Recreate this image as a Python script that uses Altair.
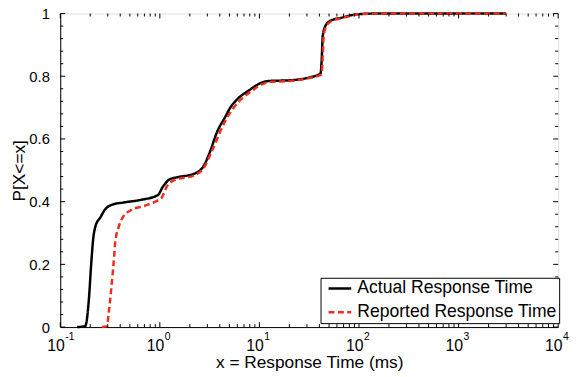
import altair as alt
import pandas as pd

F = "Liberation Sans"
RED = "#ef2d1b"

series_names = ["Actual Response Time", "Reported Response Time"]

actual_x = [0.148, 0.178, 0.194, 0.204, 0.214, 0.226, 0.253, 0.283, 0.33, 0.447, 0.653,
            0.955, 1.07, 1.25, 1.51, 2.21, 2.77, 3.22, 3.75, 4.53, 5.08, 5.92, 8.02,
            10.07, 12.6, 19.9, 31.5, 41.1, 42.1, 43.3, 46.1, 51.6, 67.4, 84.7, 98.5,
            150, 3000]
actual_y = [0.0, 0.003, 0.09, 0.196, 0.28, 0.322, 0.35, 0.376, 0.39, 0.398, 0.406,
            0.421, 0.447, 0.471, 0.478, 0.489, 0.515, 0.563, 0.622, 0.67, 0.699, 0.725, 0.757,
            0.777, 0.785, 0.787, 0.796, 0.809, 0.846, 0.93, 0.961, 0.977, 0.987, 0.995, 0.998,
            1.0, 1.0]

reported_x = [0.262, 0.294, 0.305, 0.33, 0.348, 0.356, 0.384, 0.43, 0.501, 0.706,
              0.955, 1.03, 1.2, 1.4, 2.21, 2.77, 3.35, 4.53, 6.15, 8.3, 10.4, 13.0,
              20.0, 31.5, 42.0, 43.0, 44.2, 47.0, 53.0, 69.0, 86.0, 100.0, 160.0, 3000]
reported_y = [0.0, 0.003, 0.039, 0.144, 0.227, 0.269, 0.317, 0.353, 0.371, 0.387,
              0.404, 0.41, 0.453, 0.469, 0.484, 0.508, 0.563, 0.657, 0.718, 0.752, 0.773, 0.782,
              0.785, 0.794, 0.806, 0.846, 0.93, 0.96, 0.976, 0.986, 0.994, 0.998, 1.0, 1.0]

x_major = [0.1, 1, 10, 100, 1000, 10000]
x_base = ["10", "10", "10", "10", "10", "10"]
x_exp = ["-1", "0", "1", "2", "3", "4"]
x_minor = [0.2, 0.3, 0.4, 0.5, 0.6, 0.7, 0.8, 0.9,
           2, 3, 4, 5, 6, 7, 8, 9,
           20, 30, 40, 50, 60, 70, 80, 90,
           200, 300, 400, 500, 600, 700, 800, 900,
           2000, 3000, 4000, 5000, 6000, 7000, 8000, 9000]
y_major = [0, 0.2, 0.4, 0.6, 0.8, 1.0]
y_minor = [0.04, 0.08, 0.12, 0.16, 0.24, 0.28, 0.32, 0.36, 0.44, 0.48, 0.52, 0.56,
           0.64, 0.68, 0.72, 0.76, 0.84, 0.88, 0.92, 0.96]

W, H = 505, 318

df = pd.DataFrame({
    "x": actual_x + reported_x,
    "y": actual_y + reported_y,
    "series": [series_names[0]] * len(actual_x) + [series_names[1]] * len(reported_x),
})

xscale = alt.Scale(type="log", domain=[0.1, 10000], nice=False)
yscale = alt.Scale(domain=[0, 1], nice=False, zero=False)

leg = alt.Legend(
    title=None, orient="none", legendX=264, legendY=268,
    symbolType="M-0.48,0H3.52", symbolSize=132, symbolStrokeWidth=2.5,
    labelFontSize=17.8, labelFont=F, labelColor="black", labelOffset=17.5, labelLimit=400,
    padding=2, rowPadding=5, strokeColor="black", fillColor="white",
)
color = alt.Color("series:N", scale=alt.Scale(domain=series_names, range=["#000000", RED]), legend=leg)
dash = alt.StrokeDash("series:N", scale=alt.Scale(domain=series_names, range=[[1, 0], [6, 3.5]]), legend=leg)

xaxis = alt.Axis(title="x = Response Time (ms)", labels=False, ticks=False, grid=False,
                 domainColor="black", titleFont=F, titleFontSize=17.5, titleFontWeight="normal",
                 titleColor="black", titlePadding=27.5)
yaxis = alt.Axis(title="P[X<=x]", values=y_major, format="~g", ticks=False, tickSize=0, grid=False,
                 labelPadding=11, labelFont=F, labelFontSize=15, labelColor="black",
                 domainColor="black", titleFont=F, titleFontSize=17.5, titleFontWeight="normal",
                 titleColor="black", titlePadding=0)

base = alt.Chart(df)
lines = [
    base.transform_filter(alt.datum.series == name).mark_line(strokeWidth=2.5, interpolate="monotone").encode(
        x=alt.X("x:Q", scale=xscale, axis=xaxis),
        y=alt.Y("y:Q", scale=yscale, axis=yaxis),
        color=color, strokeDash=dash,
    )
    for name in series_names
]

def xticks(vals, y1, y2):
    return alt.Chart(pd.DataFrame({"v": vals})).mark_rule(color="black", strokeWidth=1).encode(
        x=alt.X("v:Q", scale=xscale), y=alt.value(y1), y2=alt.value(y2))

def yticks(vals, x1, x2):
    return alt.Chart(pd.DataFrame({"v": vals})).mark_rule(color="black", strokeWidth=1).encode(
        y=alt.Y("v:Q", scale=yscale), x=alt.value(x1), x2=alt.value(x2))

ticks = [
    xticks(x_major, H, H - 5), xticks(x_minor, H, H - 3),
    xticks(x_major, 0, 5), xticks(x_minor, 0, 3),
    yticks(y_major, 0, 5), yticks(y_minor, 0, 3),
    yticks(y_major, W, W - 5), yticks(y_minor, W, W - 3),
]

lab = pd.DataFrame({"v": x_major, "base": x_base, "exp": x_exp})
lab_base = alt.Chart(lab).mark_text(font=F, fontSize=16, align="right", baseline="alphabetic",
                                    dx=4.5, color="black").encode(
    x=alt.X("v:Q", scale=xscale), y=alt.value(H + 24.2), text="base:N")
lab_exp = alt.Chart(lab).mark_text(font=F, fontSize=10.5, align="left", baseline="alphabetic",
                                   dx=5, color="black").encode(
    x=alt.X("v:Q", scale=xscale), y=alt.value(H + 12.7), text="exp:N")

chart = alt.layer(*lines, *ticks, lab_base, lab_exp).properties(
    width=W, height=H,
    autosize=alt.AutoSizeParams(type="none"),
    padding={"left": 53, "top": 3, "right": 12, "bottom": 47},
).configure_view(stroke="black", strokeWidth=1).configure(font=F)

chart.save("out.html", embed_options={"renderer": "svg", "actions": False})
